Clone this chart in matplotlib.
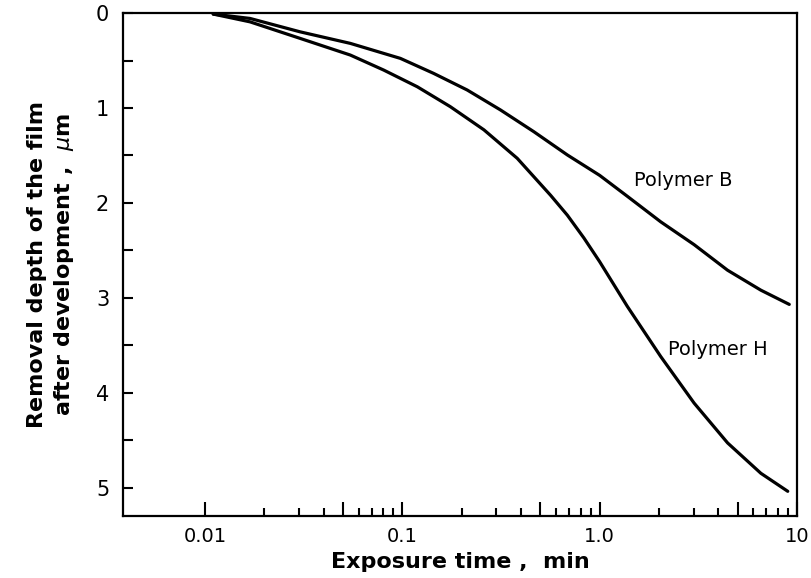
"""Removal depth of the film vs exposure time for polymers B and H."""

import matplotlib
matplotlib.use("Agg")
import matplotlib.pyplot as plt
from matplotlib.ticker import FixedLocator, FixedFormatter, NullFormatter

# values
time_b = [0.011, 0.0169, 0.0303, 0.0545, 0.0977, 0.144, 0.213, 0.314, 0.464,
          0.686, 1.0, 1.38, 2.04, 3.01, 4.45, 6.56, 9.14]
depth_b = [0.01, 0.056, 0.197, 0.319, 0.477, 0.635, 0.81, 1.02, 1.25,
           1.495, 1.71, 1.93, 2.20, 2.44, 2.71, 2.92, 3.07]

time_h = [0.011, 0.0169, 0.0303, 0.0545, 0.0804, 0.119, 0.175, 0.259, 0.382,
          0.564, 0.686, 0.832, 1.0, 1.38, 2.04, 3.01, 4.45, 6.56, 8.98]
depth_h = [0.01, 0.092, 0.266, 0.442, 0.6, 0.776, 0.986, 1.23, 1.53,
           1.92, 2.13, 2.37, 2.62, 3.09, 3.62, 4.11, 4.53, 4.85, 5.04]

x_major = [0.01, 0.05, 0.1, 0.5, 1.0, 5.0, 10.0]
x_major_labels = ["0.01", "", "0.1", "", "1.0", "", "10"]
x_minor = [m * d for d in (0.01, 0.1, 1.0) for m in (2, 3, 4, 6, 7, 8, 9)]

fig = plt.figure(figsize=(8.12, 5.78), dpi=100)
ax = fig.add_axes([0.1515, 0.1073, 0.83, 0.870])

for t, d in [(time_b, depth_b), (time_h, depth_h)]:
    ax.plot(t, d, color="black", lw=2.3,
            solid_capstyle="round", solid_joinstyle="round")

ax.set_xscale("log")
ax.set_xlim(0.00384, 10)
ax.set_ylim(5.3, 0)

ax.xaxis.set_major_locator(FixedLocator(x_major))
ax.xaxis.set_major_formatter(FixedFormatter(x_major_labels))
ax.xaxis.set_minor_locator(FixedLocator(x_minor))
ax.xaxis.set_minor_formatter(NullFormatter())

ax.set_yticks([0, 1, 2, 3, 4, 5])
ax.set_yticks([0.5, 1.5, 2.5, 3.5, 4.5], minor=True)

ax.tick_params(axis="both", which="both", direction="in", width=1.5, top=False, right=False)
ax.tick_params(axis="x", which="major", length=10, labelsize=14, pad=8)
ax.tick_params(axis="x", which="minor", length=6)
ax.tick_params(axis="y", which="both", length=7, labelsize=15, pad=10)

for spine in ax.spines.values():
    spine.set_linewidth(1.6)

ax.text(1.49, 1.76, "Polymer B", fontsize=14, ha="left", va="center")
ax.text(2.21, 3.55, "Polymer H", fontsize=14, ha="left", va="center")

ax.set_xlabel("Exposure time ,  min", fontsize=16, fontweight="bold", labelpad=4)
ax.set_ylabel("Removal depth of the film\nafter development ,  $\\mu$m",
              fontsize=16, fontweight="bold", labelpad=14, linespacing=1.3)

fig.savefig("out.png", dpi=100)
